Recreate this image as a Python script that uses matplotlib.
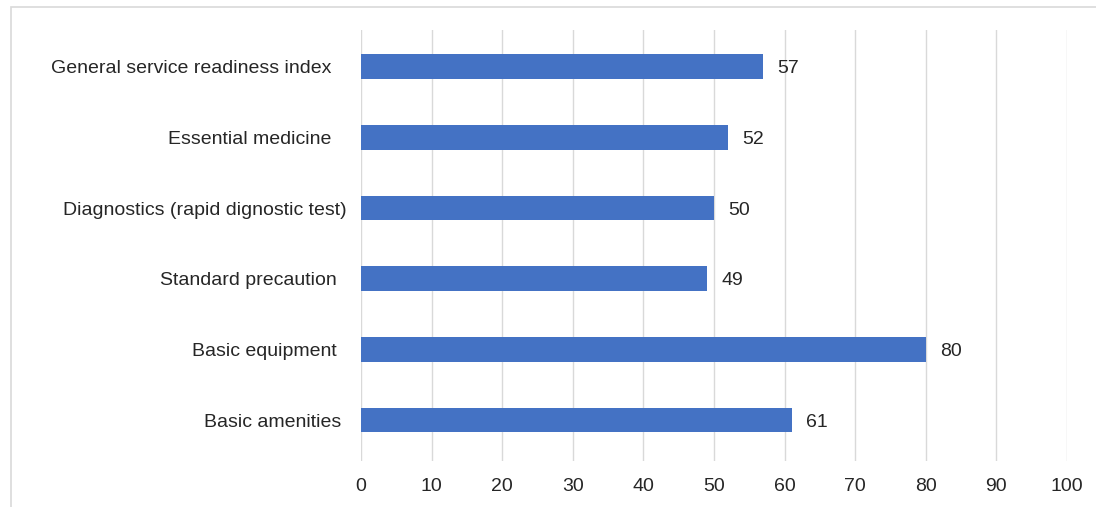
import matplotlib.pyplot as plt
from matplotlib.patches import Rectangle

plt.rcParams['font.family'] = ['Liberation Sans', 'DejaVu Sans']

categories = ['General service readiness index   ', 'Essential medicine   ',
              'Diagnostics (rapid dignostic test)', 'Standard precaution  ',
              'Basic equipment  ', 'Basic amenities ']
values = [57, 52, 50, 49, 80, 61]
xticks = [0, 10, 20, 30, 40, 50, 60, 70, 80, 90, 100]

fig = plt.figure(figsize=(10.96, 5.07), dpi=100)
# light frame around the chart area (cut at right/bottom in the original)
fig.patches.append(Rectangle((11 / 1096, -0.01), 1.0, 1 - 7 / 507 + 0.01,
                             transform=fig.transFigure, fill=False,
                             edgecolor='#d9d9d9', linewidth=1.2))

ax = fig.add_axes([361 / 1096, 1 - 461 / 507, (1067 - 361) / 1096, (461 - 30) / 507])
y = list(range(len(categories)))
ax.barh(y, values, height=0.35, color='#4472C4', zorder=3)
for yi, v in zip(y, values):
    ax.text(v + 2.0, yi, str(v), va='center_baseline', ha='left', fontsize=14, color='#262626')

ax.set_ylim(len(categories) - 0.42, -0.52)
ax.set_xlim(0, 100)
ax.set_xticks(xticks)
ax.set_yticks(y)
ax.set_yticklabels(categories)
ax.grid(axis='x', color='#d9d9d9', linewidth=1, zorder=0)
for s in ax.spines.values():
    s.set_visible(False)
ax.tick_params(length=0, labelsize=14, colors='#262626')
ax.tick_params(axis='x', pad=12)
ax.tick_params(axis='y', pad=10)
for lab in ax.get_yticklabels():
    lab.set_verticalalignment('center_baseline')

fig.savefig('out.png', dpi=100)
